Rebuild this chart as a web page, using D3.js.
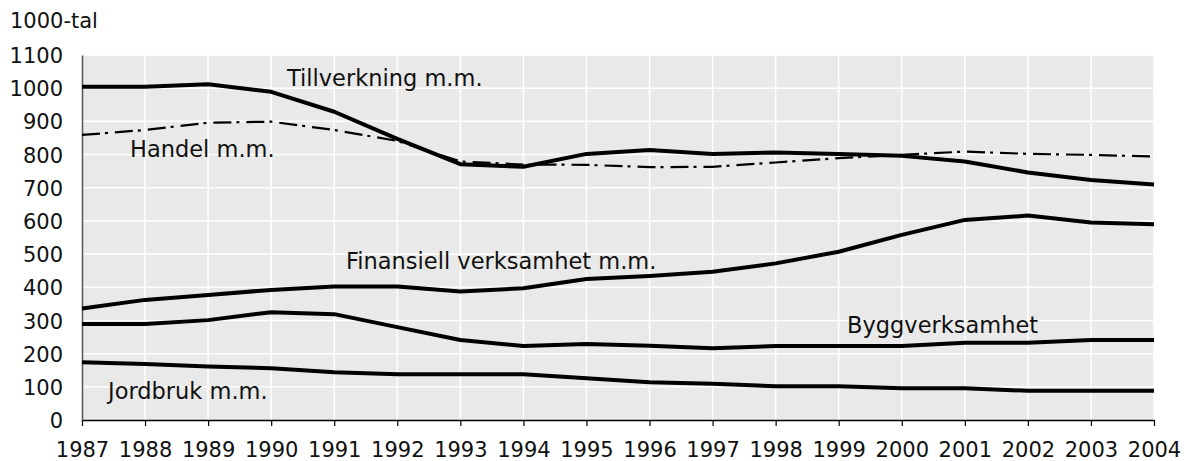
<!DOCTYPE html>
<html><head><meta charset="utf-8">
<script src="https://cdn.jsdelivr.net/npm/d3@7"></script>
<style>body{margin:0;background:#fff}svg text{font-family:"DejaVu Sans",Verdana,sans-serif;fill:#111}</style>
</head><body><svg id="c" width="1186" height="461"></svg>
<script>
const years = [1987,1988,1989,1990,1991,1992,1993,1994,1995,1996,1997,1998,1999,2000,2001,2002,2003,2004];
const yTicks = [0,100,200,300,400,500,600,700,800,900,1000,1100];
const tillverkning = [1004,1004,1012,989,929,847,771,763,802,814,802,806,802,796,779,746,723,710];
const handel = [859,874,896,899,874,841,779,770,769,762,763,776,789,799,809,802,799,794];
const finansiell = [336,362,377,392,402,402,387,397,425,434,447,472,507,558,603,616,595,590];
const bygg = [289,289,301,325,319,280,241,223,229,224,216,223,223,223,233,233,241,241];
const jordbruk = [174,169,161,156,144,138,138,138,126,114,109,102,102,96,96,88,88,88];

const svg = d3.select("#c");
const x = d3.scaleLinear().domain([1987,2004]).range([82,1154]);
const y = d3.scaleLinear().domain([0,1100]).range([420,55]);

svg.append("rect").attr("x",x(1987)).attr("y",y(1100)).attr("width",x(2004)-x(1987)).attr("height",y(0)-y(1100)).attr("fill","#e9e9e9");
svg.append("g").selectAll("line").data(yTicks.slice(1)).join("line")
  .attr("x1",x(1987)).attr("x2",x(2004)).attr("y1",d=>y(d)).attr("y2",d=>y(d)).attr("stroke","#fff").attr("stroke-width",1.5);
svg.append("g").selectAll("line").data(years.slice(1)).join("line")
  .attr("x1",d=>x(d)).attr("x2",d=>x(d)).attr("y1",y(0)).attr("y2",y(1100)).attr("stroke","#fff").attr("stroke-width",1.5);

const xa = svg.append("g").attr("transform",`translate(0,${y(0)})`)
  .call(d3.axisBottom(x).tickValues(years).tickFormat(d3.format("d")).tickSize(6).tickSizeOuter(0));
xa.select(".domain").attr("stroke","#000").attr("stroke-width",1.5);
xa.selectAll(".tick line").attr("stroke","#000").attr("stroke-width",1.2);
xa.selectAll(".tick text").attr("font-size",21).attr("dy",0).attr("y",37).attr("fill","#111");

const ya = svg.append("g").attr("transform",`translate(${x(1987)},0)`)
  .call(d3.axisLeft(y).tickValues(yTicks).tickFormat(d3.format("d")).tickSize(0).tickSizeOuter(0).tickPadding(19));
ya.select(".domain").attr("stroke","#555").attr("stroke-width",1.5);
ya.selectAll(".tick text").attr("font-size",21).attr("dy","0.36em").attr("fill","#111");

svg.append("text").attr("x",10).attr("y",28).attr("font-size",21).text("1000-tal");

const line = d3.line().x((d,i)=>x(years[i])).y(d=>y(d));
[finansiell,bygg,jordbruk,tillverkning].forEach(s=>{
  svg.append("path").attr("d",line(s)).attr("fill","none").attr("stroke","#000").attr("stroke-width",4).attr("stroke-linejoin","round");
});
svg.append("path").attr("d",line(handel)).attr("fill","none").attr("stroke","#000").attr("stroke-width",2.2).attr("stroke-dasharray","18,5,3,7");

const labels = [["Tillverkning m.m.",287,86],["Handel m.m.",130,157],["Finansiell verksamhet m.m.",346,269],["Byggverksamhet",847,333],["Jordbruk m.m.",108,399]];
svg.append("g").selectAll("text").data(labels).join("text")
  .attr("x",d=>d[1]).attr("y",d=>d[2]).attr("font-size",22.5).text(d=>d[0]);
</script></body></html>
